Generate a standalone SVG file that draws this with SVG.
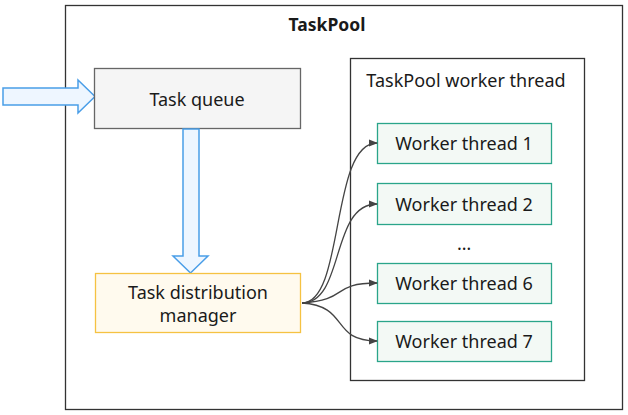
<svg xmlns="http://www.w3.org/2000/svg" width="628" height="415" viewBox="0 0 628 415">
<defs>
<marker id="ah" viewBox="0 0 10 10" refX="9" refY="5" markerWidth="9" markerHeight="9" markerUnits="userSpaceOnUse" orient="auto">
<path d="M0,1 L10,5 L0,9 Z" fill="#444"/>
</marker>
</defs>
<style>
text{font-family:"Noto Sans","Liberation Sans",sans-serif;font-size:18px;fill:#1a1a1a;text-anchor:middle;dominant-baseline:central}
.frame{fill:#fff;stroke:#333;stroke-width:1.3}
.worker rect{fill:#f3f9f5;stroke:#2aa58a;stroke-width:1.3}
.blue{fill:#eef6ff;stroke:#4a9ee8;stroke-width:1.5}
.conn{fill:none;stroke:#444;stroke-width:1.3;marker-end:url(#ah)}
</style>
<rect x="0" y="0" width="628" height="415" fill="#fff"/>
<g id="taskpool">
<rect class="frame" x="65.5" y="5.5" width="557" height="404"/>
<text x="327" y="24" style="font-weight:bold;font-size:17.5px">TaskPool</text>
</g>
<g id="worker-pool">
<rect class="frame" x="350.5" y="58.5" width="234" height="322"/>
<text x="466" y="80">TaskPool worker thread</text>
</g>
<g id="input-arrow">
<path class="blue" d="M3,88 L78,88 L78,80 L95,96.5 L78,113 L78,105 L3,105 Z"/>
</g>
<g id="task-queue">
<rect x="94.5" y="68.5" width="206" height="60" fill="#f5f5f5" stroke="#666" stroke-width="1.3"/>
<text x="197" y="99">Task queue</text>
</g>
<g id="down-arrow">
<path class="blue" d="M183,129 L199,129 L199,256 L208,256 L190.5,273 L173,256 L183,256 Z"/>
</g>
<g id="distribution">
<rect x="95.5" y="273.5" width="205" height="59" fill="#fffaee" stroke="#f5c242" stroke-width="1.3"/>
<text x="198" y="292">Task distribution</text>
<text x="198" y="315">manager</text>
</g>
<g id="w1" class="worker">
<rect x="377.5" y="123.5" width="174" height="40"/>
<text x="464" y="143">Worker thread 1</text>
</g>
<g id="w2" class="worker">
<rect x="377.5" y="183.5" width="174" height="41"/>
<text x="464" y="204">Worker thread 2</text>
</g>
<g id="dots">
<text x="464" y="243">…</text>
</g>
<g id="w6" class="worker">
<rect x="377.5" y="263.5" width="174" height="40"/>
<text x="464" y="283">Worker thread 6</text>
</g>
<g id="w7" class="worker">
<rect x="377.5" y="321.5" width="174" height="40"/>
<text x="464" y="341">Worker thread 7</text>
</g>
<g id="connectors">
<path class="conn" d="M302,303 C345,303 330,143 377,143"/>
<path class="conn" d="M302,303 C345,303 330,204 377,204"/>
<path class="conn" d="M302,303 C350,300 330,283 377,283"/>
<path class="conn" d="M302,303 C350,306 330,341 377,341"/>
</g>
</svg>
